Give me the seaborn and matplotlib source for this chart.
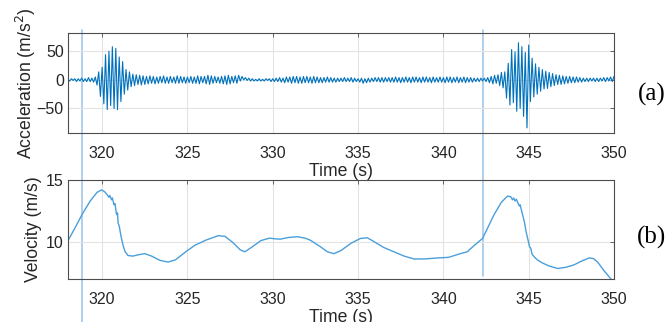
import numpy as np
import pandas as pd
import matplotlib
matplotlib.use("Agg")
import matplotlib.pyplot as plt
import seaborn as sns

# ---------------- data ----------------
ACC_T0 = 318.0          # first sample time (s)
ACC_DT = 0.1            # sampling step (s)
acceleration = [
    1, -2, 2, -1, 2, -3, 2, -2, 3, -3,            # 318
    2, -3, 4, -3, 3, -4, 5, -9, 14, -29,          # 319
    22, -42, 44, -52, 50, -45, 58, -50, 55, -52,  # 320
    40, -38, 32, -25, 18, -18, 14, -12, 10, -10,  # 321
    9, -8, 8, -9, 7, -8, 6, -7, 7, -6,            # 322
    6, -7, 5, -6, 6, -5, 7, -6, 5, -6,            # 323
    6, -5, 5, -6, 7, -6, 6, -5, 5, -6,            # 324
    5, -5, 6, -6, 5, -6, 7, -7, 6, -5,            # 325
    6, -7, 8, -8, 7, -6, 6, -5, 5, -6,            # 326
    6, -7, 7, -8, 8, -7, 6, -5, 7, -6,            # 327
    8, -2, 6, 0, 4, -1, 3, -2, 2, -2,             # 328
    1, -2, 2, -2, 1, -2, 2, -1, 2, -3,            # 329
    2, -3, 3, -3, 4, -4, 3, -5, 5, -4,            # 330
    5, -6, 6, -5, 6, -6, 5, -6, 6, -5,            # 331
    6, -5, 5, -6, 6, -5, 5, -5, 4, -5,            # 332
    4, -4, 5, -4, 4, -4, 3, -4, 3, -3,            # 333
    3, -3, 4, -3, 3, -3, 4, -4, 3, -3,            # 334
    2, -4, 3, -6, 2, -5, 3, -4, 3, -3,            # 335
    4, -3, 4, -4, 4, -4, 4, -3, 4, -4,            # 336
    4, -4, 5, -4, 4, -5, 4, -4, 5, -4,            # 337
    4, -5, 5, -4, 5, -4, 4, -5, 5, -4,            # 338
    5, -4, 4, -5, 5, -4, 4, -4, 5, -4,            # 339
    4, -5, 5, -4, 5, -5, 4, -4, 5, -5,            # 340
    4, -4, 5, -5, 4, -4, 4, -4, 3, -3,            # 341
    3, -3, 3, -2, 3, -3, 4, -5, 6, -7,            # 342
    8, -6, 9, -10, 13, -14, 14, -32, 29, -44,     # 343
    53, -40, 49, -55, 65, -50, 58, -64, 48, -84,  # 344
    61, -38, 38, -30, 28, -25, 22, -20, 18, -16,  # 345
    15, -15, 13, -12, 11, -10, 9, -8, 8, -8,      # 346
    7, -7, 6, -6, 6, -5, 5, -5, 5, -4,            # 347
    4, -4, 3, -3, 3, -3, 3, -2, 3, -3,            # 348
    3, -3, 3, -2, 4, -3, 4, -2, 5, -3,            # 349
    6,                                            # 350
]

velocity_time = [
    318.0, 318.4, 318.82, 319.3, 319.7, 319.96, 320.15, 320.3, 320.4, 320.45,
    320.55, 320.6, 320.7, 320.75, 320.85, 320.9, 320.94, 321.0, 321.1, 321.23,
    321.35, 321.52, 321.8, 322.1, 322.5, 322.9, 323.4, 323.87, 324.3, 324.9,
    325.44, 326.1, 326.8, 327.2, 327.7, 328.1, 328.37, 328.8, 329.3, 329.8,
    330.1, 330.45, 330.9, 331.43, 331.9, 332.2, 332.8, 333.2, 333.58, 334.0,
    334.6, 335.15, 335.54, 335.9, 336.5, 337.1, 337.7, 338.28, 338.9, 339.65,
    340.3, 341.0, 341.4, 341.8, 342.3, 342.97, 343.4, 343.76, 343.95, 344.05,
    344.12, 344.2, 344.28, 344.35, 344.45, 344.5, 344.64, 344.75, 344.85, 344.97,
    345.05, 345.12, 345.2, 345.32, 345.5, 345.8, 346.2, 346.7, 347.2, 347.67,
    348.1, 348.55, 348.8, 349.04, 349.4, 349.82, 350.0,
]
velocity = [
    10.1, 11.1, 12.2, 13.3, 14.0, 14.2, 14.05, 13.8, 13.6, 13.75,
    13.4, 13.55, 13.0, 13.1, 12.2, 12.35, 11.5, 11.3, 10.5, 9.7,
    9.2, 8.9, 8.85, 8.95, 9.05, 8.85, 8.5, 8.37, 8.55, 9.2,
    9.73, 10.15, 10.5, 10.45, 9.9, 9.35, 9.2, 9.6, 10.1, 10.3,
    10.25, 10.22, 10.35, 10.42, 10.3, 10.14, 9.6, 9.2, 9.05, 9.3,
    9.9, 10.28, 10.33, 10.05, 9.55, 9.2, 8.85, 8.62, 8.62, 8.7,
    8.75, 9.05, 9.2, 9.7, 10.28, 12.2, 13.2, 13.7, 13.65, 13.4,
    13.55, 13.3, 13.45, 13.2, 12.9, 13.0, 12.2, 11.6, 10.8, 10.1,
    9.6, 9.5, 9.0, 8.8, 8.55, 8.3, 8.05, 7.85, 7.95, 8.15,
    8.45, 8.7, 8.65, 8.37, 7.7, 7.0, 6.8,
]

marker_times = [318.82, 342.3]          # vertical markers
x_ticks = [320, 325, 330, 335, 340, 345, 350]
acc_ticks = [-50, 0, 50]
vel_ticks = [10, 15]
panel_labels = ["(a)", "(b)"]

# ---------------- styling ----------------
sns.set_theme(style="white")
plt.rcParams["font.family"] = ["Liberation Sans", "DejaVu Sans"]
TXT = "#262626"
ACC_COL = "#0072BD"
VEL_COL = "#4A9FDB"
VLINE_COL = "#A9CCEA"
GRID_COL = "#E3E3E3"
TICK_FS = 11.5
LABEL_FS = 12.7

fig = plt.figure(figsize=(6.7, 3.22), dpi=100)
fig.patch.set_facecolor("white")
ax1 = fig.add_axes([68 / 670, 1 - 133 / 322, 546 / 670, 100 / 322])
ax2 = fig.add_axes([68 / 670, 1 - 279 / 322, 546 / 670, 99 / 322])

acc_t = np.round(ACC_T0 + ACC_DT * np.arange(len(acceleration)), 2)
df_acc = pd.DataFrame({"t": acc_t, "a": acceleration})
df_vel = pd.DataFrame({"t": velocity_time, "v": velocity})

sns.lineplot(data=df_acc, x="t", y="a", ax=ax1, color=ACC_COL, linewidth=0.8,
             estimator=None, sort=False)
sns.lineplot(data=df_vel, x="t", y="v", ax=ax2, color=VEL_COL, linewidth=1.0,
             estimator=None, sort=False)

for ax in (ax1, ax2):
    ax.set_xlim(318, 350)
    ax.set_xticks(x_ticks)
    ax.grid(True, color=GRID_COL, linewidth=0.8)
    ax.set_axisbelow(True)
    for s in ax.spines.values():
        s.set_color("#4D4D4D")
        s.set_linewidth(0.8)
    ax.tick_params(direction="in", top=True, right=True, length=3,
                   width=0.6, colors="#4D4D4D", labelcolor=TXT,
                   labelsize=TICK_FS)
    ax.tick_params(axis="x", pad=9)
    ax.tick_params(axis="y", pad=3)
    ax.patch.set_alpha(0)

ax1.set_ylim(-93, 82)
ax1.set_yticks(acc_ticks)
ax2.set_ylim(7, 15)
ax2.set_yticks(vel_ticks)

ax1.set_xlabel("Time (s)", fontsize=LABEL_FS, color=TXT, labelpad=2)
ax2.set_xlabel("Time (s)", fontsize=LABEL_FS, color=TXT, labelpad=2)
ax1.set_ylabel("Acceleration (m/s$^2$)", fontsize=LABEL_FS, color=TXT)
ax2.set_ylabel("Velocity (m/s)", fontsize=LABEL_FS, color=TXT)
ax1.yaxis.set_label_coords(-0.055, 0.5)
ax2.yaxis.set_label_coords(-0.048, 0.5)

# vertical markers spanning both panels
ax1.axvline(marker_times[0], ymin=-1.89, ymax=1.03, color=VLINE_COL,
            linewidth=1.3, clip_on=False, zorder=0)
ax1.axvline(marker_times[1], ymin=-1.43, ymax=1.03, color=VLINE_COL,
            linewidth=1.3, clip_on=False, zorder=0)

fig.text(652 / 670, 1 - 94 / 322, panel_labels[0], fontsize=18,
         family=["Liberation Serif", "DejaVu Serif"], ha="center", va="center",
         color="black")
fig.text(652 / 670, 1 - 237 / 322, panel_labels[1], fontsize=18,
         family=["Liberation Serif", "DejaVu Serif"], ha="center", va="center",
         color="black")

fig.savefig("out.png", dpi=100, facecolor="white")
